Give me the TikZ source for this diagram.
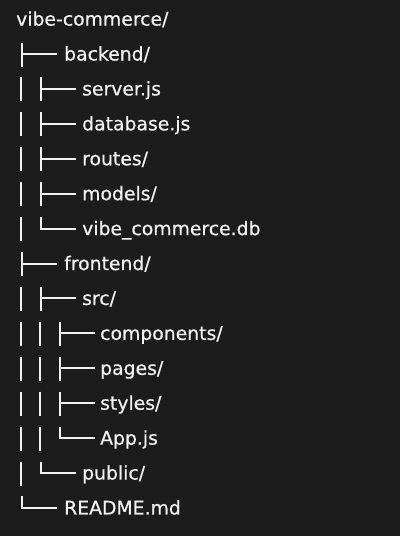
\documentclass[tikz,border=0pt]{standalone}
\usepackage{fontspec}
\setmainfont{DejaVu Sans}[FakeBold=0.6]
\definecolor{bg}{HTML}{1C1C1C}
\definecolor{fg}{HTML}{F2F2F2}
\begin{document}
\begin{tikzpicture}[x=1bp,y=-1bp,
  item/.style={anchor=base west,inner sep=0pt,text=fg,font=\fontsize{18.8bp}{20bp}\selectfont},
  treeline/.style={draw=fg,line width=2bp},
  treebar/.pic={\draw[treeline] (0,-18) -- (0,6);},
  treetee/.pic={\draw[treeline] (0,-18) -- (0,6); \draw[treeline] (0,-6.5) -- (35,-6.5);},
  treecorner/.pic={\draw[treeline,line join=miter] (0,-18) -- (0,-6.5) -- (35,-6.5);}]
\fill[bg] (0,0) rectangle (400,536);
\useasboundingbox (0,0) rectangle (400,536);
% texts
\node[item] (r0) at (16,{25.6+34.92*0}) {vibe-commerce/};
\node[item] (r1) at (64,{25.6+34.92*1}) {backend/};
\node[item] (r2) at (82,{25.6+34.92*2}) {server.js};
\node[item] (r3) at (82,{25.6+34.92*3}) {database.js};
\node[item] (r4) at (82,{25.6+34.92*4}) {routes/};
\node[item] (r5) at (82,{25.6+34.92*5}) {models/};
\node[item] (r6) at (82,{25.6+34.92*6}) {vibe\_commerce.db};
\node[item] (r7) at (64,{25.6+34.92*7}) {frontend/};
\node[item] (r8) at (82,{25.6+34.92*8}) {src/};
\node[item] (r9) at (100,{25.6+34.92*9}) {components/};
\node[item] (r10) at (100,{25.6+34.92*10}) {pages/};
\node[item] (r11) at (100,{25.6+34.92*11}) {styles/};
\node[item] (r12) at (100,{25.6+34.92*12}) {App.js};
\node[item] (r13) at (82,{25.6+34.92*13}) {public/};
\node[item] (r14) at (64,{25.6+34.92*14}) {README.md};
% tree lines
\pic at (21.5,{25.6+34.92*1}) {treetee};
\foreach \r in {2,3,4,5}{
  \pic at (21,{25.6+34.92*\r}) {treebar};
  \pic at (41,{25.6+34.92*\r}) {treetee};
}
\pic at (21,{25.6+34.92*6}) {treebar};
\pic at (41,{25.6+34.92*6}) {treecorner};
\pic at (21.5,{25.6+34.92*7}) {treetee};
\pic at (21,{25.6+34.92*8}) {treebar};
\pic at (41,{25.6+34.92*8}) {treetee};
\foreach \r in {9,10,11}{
  \pic at (21,{25.6+34.92*\r}) {treebar};
  \pic at (39.5,{25.6+34.92*\r}) {treebar};
  \pic at (59.5,{25.6+34.92*\r}) {treetee};
}
\pic at (21,{25.6+34.92*12}) {treebar};
\pic at (39.5,{25.6+34.92*12}) {treebar};
\pic at (59.5,{25.6+34.92*12}) {treecorner};
\pic at (21,{25.6+34.92*13}) {treebar};
\pic at (41,{25.6+34.92*13}) {treecorner};
\pic at (21.5,{25.6+34.92*14}) {treecorner};
\end{tikzpicture}
\end{document}
